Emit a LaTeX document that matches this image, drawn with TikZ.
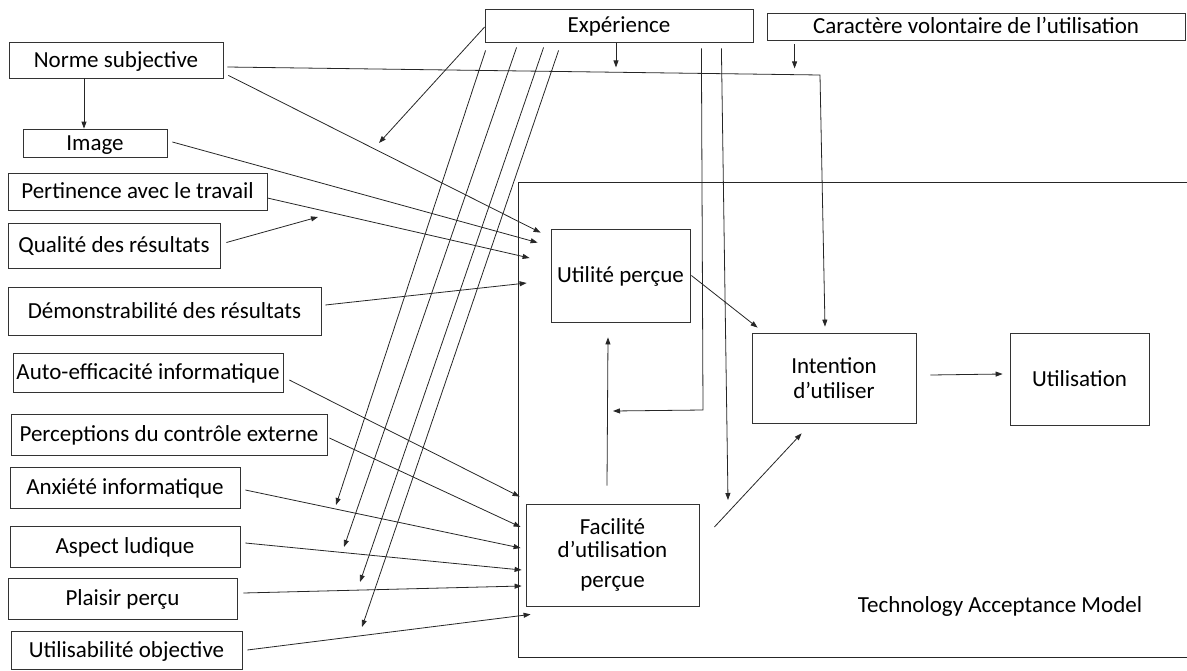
\documentclass[tikz,border=0pt]{standalone}
\usepackage{fontspec}
\setmainfont{Carlito}
\usetikzlibrary{arrows.meta,calc}
\newcommand{\tamFont}[0]{\fontsize{23}{25}\selectfont}

\begin{document}
\begin{tikzpicture}[x=1pt, y=-1pt, font=\tamFont]
  \tikzset{box/.style={draw=black!80, line width=0.8pt, inner sep=0pt, align=center},
           line/.style={text height=16pt, text depth=2pt},
           arr/.style={draw=black!85, line width=0.8pt, -{Triangle[length=7pt,width=5pt]}},
           wire/.style={draw=black!85, line width=0.8pt}}
  \useasboundingbox (0,0) rectangle (1187,670);
  % frame of the model
  \draw[wire] (1187,182) -| (518,657) -- (1187,657);
  \node[line, inner sep=0pt] (tam) at (1000,605) {Technology Acceptance Model};
  % moderators
  \node[box, line, minimum width=268, minimum height=33] (exp) at (619,25.5) {Expérience};
  \node[box, line, minimum width=418, minimum height=27] (vol) at (976,26.5) {Caractère volontaire de l’utilisation};
  % determinants
  \node[box, line, minimum width=214, minimum height=36] (norme) at (116,60) {Norme subjective};
  \node[box, line, minimum width=144, minimum height=28] (image) at (95,143) {Image};
  \node[box, line, minimum width=259, minimum height=37] (pert) at (137.5,191.5) {Pertinence avec le travail};
  \node[box, line, minimum width=212, minimum height=45] (qual) at (114,245.5) {Qualité des résultats};
  \node[box, line, minimum width=313, minimum height=48] (demo) at (164.5,311) {Démonstrabilité des résultats};
  \node[box, line, minimum width=270, minimum height=39] (auto) at (148,372.5) {Auto-efficacité informatique};
  \node[box, line, minimum width=316, minimum height=41] (perc) at (169,434.5) {Perceptions du contrôle externe};
  \node[box, line, minimum width=230, minimum height=41] (anx) at (125,487.5) {Anxiété informatique};
  \node[box, line, minimum width=230, minimum height=41] (asp) at (125,546.5) {Aspect ludique};
  \node[box, line, minimum width=229, minimum height=41] (plai) at (122.5,598.5) {Plaisir perçu};
  \node[box, line, minimum width=231, minimum height=38] (utob) at (126.5,650) {Utilisabilité objective};
  % core of the model
  \node[box, line, minimum width=139, minimum height=93] (util) at (620.5,275.5) {Utilité perçue};
  \node[box, minimum width=173, minimum height=102] (fac) at (612.5,555)
    {Facilité\\[-2pt]d’utilisation\\[5.5pt]perçue};
  \node[box, minimum width=164, minimum height=90] (int) at (834,378) {Intention\\d’utiliser};
  \node[box, line, minimum width=139, minimum height=92] (use) at (1079.5,379) {Utilisation};
  % free ends
  \coordinate (qualEnd) at (318,217);
  \coordinate (expEnd) at (379,143);
  \coordinate (e1) at (336,505);
  \coordinate (e2) at (344,547);
  \coordinate (e3) at (360,582);
  \coordinate (e4) at (362,627);
  \coordinate (bendEnd) at (613,411);
  \coordinate (downEnd) at (728,500);

  \draw[arr] ($(norme.south)+(-32,0)$) -- ($(image.north)+(-11,0)$);
  \draw[arr] ($(norme.east)+(4,7)$) -- (820,75) -- ($(int.north)+(-9,-6)$);
  \draw[arr] ($(norme.south east)+(5,-3)$) -- ($(util.north west)+(-10,4)$);
  \draw[arr] ($(image.east)+(5,-1)$) -- ($(util.north west)+(-13,14)$);
  \draw[arr] ($(pert.east)+(0,6.5)$) -- ($(util.west)+(-21,-17.5)$);
  \draw[arr] ($(qual.east)+(6,-3)$) -- (qualEnd);
  \draw[arr] ($(demo.east)+(4,-6)$) -- ($(util.west)+(-24,7.5)$);
  \draw[arr] ($(auto.east)+(6,7.5)$) -- ($(fac.north west)+(-6,-7)$);
  \draw[arr] ($(perc.east)+(2,3.5)$) -- ($(fac.west)+(-5,-28)$);
  \draw[arr] ($(anx.east)+(5,2.5)$) -- ($(fac.west)+(-5,-7)$);
  \draw[arr] ($(asp.east)+(5,-3.5)$) -- ($(fac.west)+(-4,15)$);
  \draw[arr] ($(plai.east)+(6,-5.5)$) -- ($(fac.west)+(-4,31)$);
  \draw[arr] ($(utob.east)+(5,0)$) -- ($(fac.south west)+(5,8)$);

  \draw[arr] ($(exp.west)+(0,1.5)$) -- (expEnd);
  \draw[arr] ($(exp.south west)+(1,8)$) -- (e1);
  \draw[arr] ($(exp.south west)+(32,5)$) -- (e2);
  \draw[arr] ($(exp.south west)+(59,5)$) -- (e3);
  \draw[arr] ($(exp.south west)+(74,8)$) -- (e4);
  \draw[arr] ($(exp.south)+(-3,1)$) -- ++(0,24);
  \draw[arr] ($(exp.south east)+(-52,6)$) -- (703,410) -- (bendEnd);
  \draw[arr] ($(exp.south east)+(-32,6)$) -- (downEnd);
  \draw[arr] ($(vol.south west)+(28,4)$) -- ++(0,24);

  \draw[arr] ($(fac.north)+(-5.5,-18)$) -- ($(util.south)+(-12.5,15)$);
  \draw[arr] ($(util.east)+(1,0)$) -- ($(int.north west)+(6,-5)$);
  \draw[arr] ($(fac.east)+(15,-28)$) -- ($(int.south west)+(50,10)$);
  \draw[arr] ($(int.east)+(14,-3)$) -- ($(use.west)+(-7,-5)$);
\end{tikzpicture}
\end{document}
